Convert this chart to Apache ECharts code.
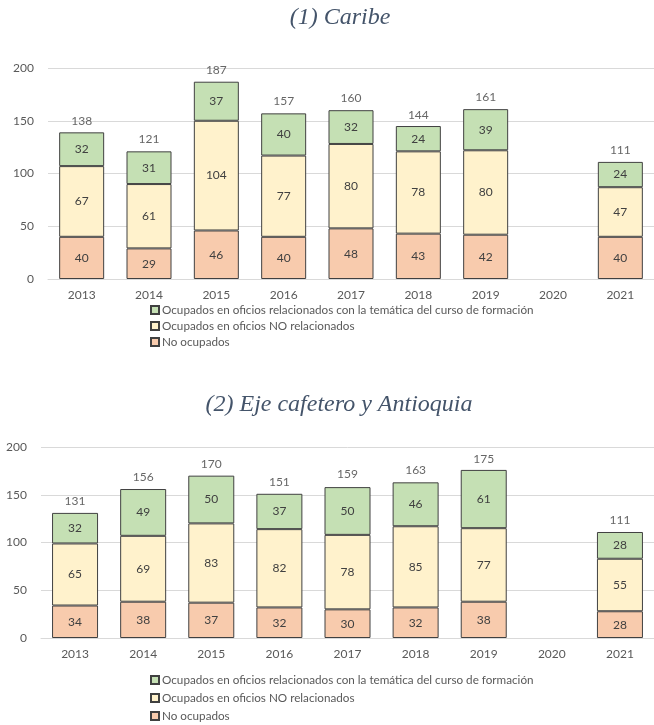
<!DOCTYPE html>
<html>
<head>
<meta charset="utf-8">
<script src="https://cdn.jsdelivr.net/npm/echarts@6/dist/echarts.min.js"></script>
<style>
  html, body { margin: 0; padding: 0; background: #fff; }
  #chart { width: 654px; height: 725px; }
</style>
</head>
<body>
<div id="chart"></div>
<script>
const years = ['2013', '2014', '2015', '2016', '2017', '2018', '2019', '2020', '2021']
const yTicks = [0, 50, 100, 150, 200]

// (1) Caribe
const caribeNoOcupados = [40, 29, 46, 40, 48, 43, 42, '-', 40]
const caribeNoRelacionados = [67, 61, 104, 77, 80, 78, 80, '-', 47]
const caribeRelacionados = [32, 31, 37, 40, 32, 24, 39, '-', 24]
const caribeTotal = [138, 121, 187, 157, 160, 144, 161, '-', 111]

// (2) Eje cafetero y Antioquia
const ejeNoOcupados = [34, 38, 37, 32, 30, 32, 38, '-', 28]
const ejeNoRelacionados = [65, 69, 83, 82, 78, 85, 77, '-', 55]
const ejeRelacionados = [32, 49, 50, 37, 50, 46, 61, '-', 28]
const ejeTotal = [131, 156, 170, 151, 159, 163, 175, '-', 111]

const NAME_REL = 'Ocupados en oficios relacionados con la temática del curso de formación'
const NAME_NOREL = 'Ocupados en oficios NO relacionados'
const NAME_NOOC = 'No ocupados'

const FONT = 'Lato'
const AXIS_COLOR = '#595959'
const LABEL_COLOR = '#404040'
const GRID_COLOR = '#d9d9d9'

const colors = {
	[NAME_REL]: '#c5e0b4',
	[NAME_NOREL]: '#fff2cc',
	[NAME_NOOC]: '#f8cbad',
}

const segLabel = {
	show: true,
	position: 'inside',
	color: LABEL_COLOR,
	fontFamily: FONT,
	fontSize: 12,
}

function barSeries(name, data, idx, barWidth) {
	return {
		name: name,
		type: 'bar',
		stack: 'total' + idx,
		xAxisIndex: idx,
		yAxisIndex: idx,
		barWidth: barWidth,
		data: data,
		label: segLabel,
		itemStyle: { color: colors[name], borderColor: '#404040', borderWidth: 1 },
		silent: true,
	}
}

function totalSeries(data, idx) {
	return {
		type: 'scatter',
		xAxisIndex: idx,
		yAxisIndex: idx,
		symbolSize: 0,
		data: data,
		silent: true,
		label: {
			show: true,
			position: 'top',
			distance: 6,
			color: LABEL_COLOR,
			fontFamily: FONT,
			fontSize: 12,
		},
	}
}

function xAxis(idx) {
	return {
		type: 'category',
		gridIndex: idx,
		data: years,
		axisLine: { lineStyle: { color: GRID_COLOR } },
		axisTick: { show: false },
		axisLabel: { color: AXIS_COLOR, fontFamily: FONT, fontSize: 12, margin: 10 },
	}
}

function yAxis(idx) {
	return {
		type: 'value',
		gridIndex: idx,
		min: yTicks[0],
		max: yTicks[yTicks.length - 1],
		interval: yTicks[1] - yTicks[0],
		axisLine: { show: false },
		axisTick: { show: false },
		axisLabel: { color: AXIS_COLOR, fontFamily: FONT, fontSize: 12, margin: 14 },
		splitLine: { lineStyle: { color: GRID_COLOR } },
	}
}

function legend(top, gap) {
	return {
		orient: 'vertical',
		left: 150,
		top: top,
		height: 60,
		padding: 0,
		itemWidth: 8,
		itemHeight: 8,
		itemGap: gap,
		icon: 'rect',
		selectedMode: false,
		data: [NAME_REL, NAME_NOREL, NAME_NOOC],
		textStyle: { color: AXIS_COLOR, fontFamily: FONT, fontSize: 11.7, padding: [0, 0, 0, -2] },
	}
}

const titleStyle = {
	fontFamily: 'Liberation Serif',
	fontStyle: 'italic',
	fontWeight: 'normal',
	fontSize: 24,
	color: '#44546a',
}

const option = {
	animation: false,
	backgroundColor: '#fff',
	title: [
		{ text: '(1) Caribe', left: 340, top: 6, textAlign: 'center', padding: 0, textStyle: titleStyle },
		{ text: '(2) Eje cafetero y Antioquia', left: 339, top: 393, textAlign: 'center', padding: 0, textStyle: titleStyle },
	],
	legend: [legend(304, 4), legend(674, 6)],
	grid: [
		{ left: 48, top: 68, width: 615, height: 211 },
		{ left: 41, top: 447, width: 628, height: 191 },
	],
	xAxis: [xAxis(0), xAxis(1)],
	yAxis: [yAxis(0), yAxis(1)],
	series: [
		barSeries(NAME_NOOC, caribeNoOcupados, 0, 45),
		barSeries(NAME_NOREL, caribeNoRelacionados, 0, 45),
		barSeries(NAME_REL, caribeRelacionados, 0, 45),
		totalSeries(caribeTotal, 0),
		barSeries(NAME_NOOC, ejeNoOcupados, 1, 46),
		barSeries(NAME_NOREL, ejeNoRelacionados, 1, 46),
		barSeries(NAME_REL, ejeRelacionados, 1, 46),
		totalSeries(ejeTotal, 1),
	],
}

const chart = echarts.init(document.getElementById('chart'), null, { renderer: 'canvas' })
chart.setOption(option)
</script>
</body>
</html>
